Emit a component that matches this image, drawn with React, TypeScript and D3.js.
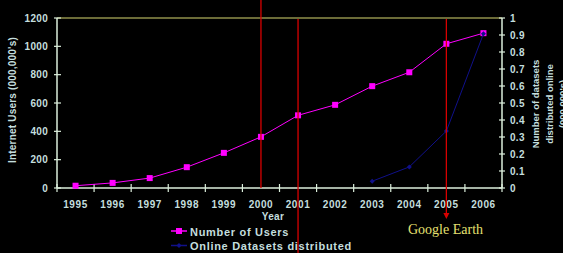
import React from 'react';
import * as d3 from 'd3';

const years = ['1995','1996','1997','1998','1999','2000','2001','2002','2003','2004','2005','2006'];
const users = [16, 36, 70, 147, 248, 361, 513, 587, 719, 817, 1018, 1093];
const datasetYears = ['2003','2004','2005','2006'];
const datasets = [0.04, 0.124, 0.335, 0.907];
const leftTicks = [0, 200, 400, 600, 800, 1000, 1200];
const rightTicks = [0, 0.1, 0.2, 0.3, 0.4, 0.5, 0.6, 0.7, 0.8, 0.9, 1];
const legendLabels = ['Number of Users', 'Online Datasets distributed'];
const leftTitle = "Internet Users (000,000's)";
const rightTitle = ['Number of datasets', 'distributed online', "(000,000's)"];
const xTitle = 'Year';
const eventYears = ['2000', '2001', '2005'];
const eventLabel = 'Google Earth';

const W = 563, H = 253;
const L = 57, R = 502, T = 18, B = 188;
const txt = '#c4dede';
const axisCol = '#dcefdc';
const magenta = '#ff00ff';
const navy = '#10108a';
const red = '#d80000';
const font = 'Liberation Sans, Arial, sans-serif';

export default function App() {
  const x = d3.scaleBand().domain(years).range([L, R]).padding(0);
  const cx = (y: string) => (x(y) as number) + x.bandwidth() / 2;
  const yl = d3.scaleLinear().domain([0, 1200]).range([B, T]);
  const yr = d3.scaleLinear().domain([0, 1]).range([B, T]);
  const usersLine = d3.line<number>().x((_, i) => cx(years[i])).y(d => yl(d))(users) as string;
  const dsLine = d3.line<number>().x((_, i) => cx(datasetYears[i])).y(d => yr(d))(datasets) as string;
  const boundaries = d3.range(years.length + 1).map(i => L + i * x.bandwidth());
  const diamond = (px: number, py: number, s: number) => `M${px},${py - s}L${px + s},${py}L${px},${py + s}L${px - s},${py}Z`;
  const e0 = cx(eventYears[0]), e1 = cx(eventYears[1]), e2 = cx(eventYears[2]);

  return (
    <svg width={W} height={H} style={{ position: 'absolute', left: 0, top: 0, background: '#000' }} fontFamily={font}>
      <rect x={0} y={0} width={W} height={H} fill="#000" />
      {/* top border */}
      <line x1={L} x2={R} y1={T} y2={T} stroke="#d8d870" strokeWidth={1.2} />
      {/* axes */}
      <line x1={L} x2={L} y1={T} y2={B} stroke={axisCol} strokeWidth={1.5} />
      <line x1={R} x2={R} y1={T} y2={B} stroke={axisCol} strokeWidth={1.5} />
      <line x1={L} x2={R} y1={B} y2={B} stroke={axisCol} strokeWidth={1.5} />
      {leftTicks.map(t => (
        <g key={'l' + t}>
          <line x1={54} x2={61} y1={yl(t)} y2={yl(t)} stroke={axisCol} strokeWidth={1.2} />
          <text x={48} y={yl(t)} dy="0.35em" textAnchor="end" fill={txt} fontSize={10} fontWeight="bold" letterSpacing={0.3}>{t}</text>
        </g>
      ))}
      {rightTicks.map(t => (
        <g key={'r' + t}>
          <line x1={499} x2={505} y1={yr(t)} y2={yr(t)} stroke={axisCol} strokeWidth={1.2} />
          <text x={510} y={yr(t)} dy="0.35em" textAnchor="start" fill={txt} fontSize={10} fontWeight="bold" letterSpacing={0.3}>{t}</text>
        </g>
      ))}
      {boundaries.map((b, i) => (
        <line key={'b' + i} x1={b} x2={b} y1={184} y2={192} stroke={axisCol} strokeWidth={1.2} />
      ))}
      {years.map(yv => (
        <text key={'x' + yv} x={cx(yv)} y={207.5} textAnchor="middle" fill={txt} fontSize={10} fontWeight="bold" letterSpacing={0.6}>{yv}</text>
      ))}
      <text x={273} y={219.5} textAnchor="middle" fill={txt} fontSize={10} fontWeight="bold" letterSpacing={0.4}>{xTitle}</text>
      <text transform="translate(16,100) rotate(-90)" textAnchor="middle" fill={txt} fontSize={10} fontWeight="bold" letterSpacing={0.2}>{leftTitle}</text>
      {rightTitle.map((s, i) => (
        <text key={'rt' + i} transform={`translate(${539 + i * 13.5},104) rotate(-90)`} textAnchor="middle" fill={txt} fontSize={9.5} fontWeight="bold">{s}</text>
      ))}
      {/* series */}
      <path d={usersLine} fill="none" stroke={magenta} strokeWidth={1} />
      {users.map((v, i) => (
        <rect key={'u' + i} x={cx(years[i]) - 3} y={yl(v) - 3} width={6} height={6} fill={magenta} />
      ))}
      <path d={dsLine} fill="none" stroke={navy} strokeWidth={1} />
      {datasets.map((v, i) => (
        <path key={'d' + i} d={diamond(cx(datasetYears[i]), yr(v), 2.5)} fill={navy} />
      ))}
      {/* event lines */}
      <line x1={e0} x2={e0} y1={0} y2={B} stroke={red} strokeWidth={1.3} />
      <line x1={e1} x2={e1} y1={19} y2={H} stroke={red} strokeWidth={1.3} />
      <line x1={e2} x2={e2} y1={19} y2={214} stroke={red} strokeWidth={1.3} />
      <path d={`M${e2 - 3},${213}L${e2 + 3},${213}L${e2},${219}Z`} fill={red} />
      <text x={408} y={233.5} fill="#e6e070" fontSize={14} fontFamily="Liberation Serif, Times New Roman, serif">{eventLabel}</text>
      {/* legend */}
      <line x1={171} x2={187} y1={231} y2={231} stroke={magenta} strokeWidth={1.5} />
      <rect x={176} y={228} width={6} height={6} fill={magenta} />
      <text x={190} y={235.5} fill={txt} fontSize={11} fontWeight="bold" letterSpacing={0.7}>{legendLabels[0]}</text>
      <line x1={171} x2={187} y1={245.5} y2={245.5} stroke={navy} strokeWidth={1.5} />
      <path d={diamond(179, 245.5, 2.5)} fill={navy} />
      <text x={190} y={249.5} fill={txt} fontSize={11} fontWeight="bold" letterSpacing={0.7}>{legendLabels[1]}</text>
    </svg>
  );
}
